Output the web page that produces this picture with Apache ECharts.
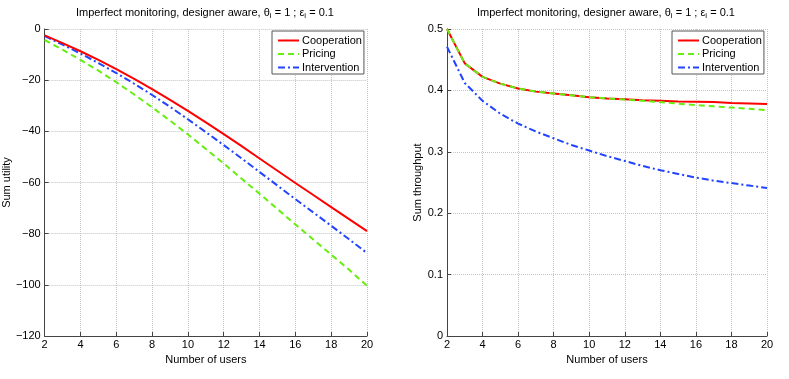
<!DOCTYPE html>
<html>
<head>
<meta charset="utf-8">
<script src="https://cdn.jsdelivr.net/npm/echarts@6/dist/echarts.min.js"></script>
<style>
  html, body { margin: 0; padding: 0; background: #fff; }
  #main { width: 789px; height: 379px; }
</style>
</head>
<body>
<div id="main"></div>
<script>
// number of users (x axis)
var users = [2, 3, 4, 5, 6, 7, 8, 9, 10, 11, 12, 13, 14, 15, 16, 17, 18, 19, 20];
var seriesNames = ['Cooperation', 'Pricing', 'Intervention'];

// left panel: sum utility
var coopUtility = [-2.5, -5.5, -8.7, -12.1, -15.7, -19.5, -23.5, -27.7, -32.0, -36.5, -41.1, -45.8, -50.6, -55.4, -60.2, -64.9, -69.6, -74.3, -79.0];
var pricingUtility = [-4.3, -8.1, -12.1, -16.3, -20.8, -25.6, -30.6, -35.8, -41.2, -46.9, -52.6, -58.5, -64.4, -70.4, -76.4, -82.3, -88.2, -94.1, -100.4];
var interventionUtility = [-2.8, -6.1, -9.6, -13.3, -17.2, -21.4, -25.8, -30.4, -35.3, -40.3, -45.4, -50.6, -55.9, -61.2, -66.5, -71.7, -76.9, -82.2, -87.6];

// right panel: sum throughput
var coopThroughput = [0.500, 0.444, 0.422, 0.411, 0.403, 0.398, 0.395, 0.392, 0.389, 0.387, 0.3855, 0.384, 0.383, 0.382, 0.3815, 0.381, 0.3795, 0.3787, 0.378];
var pricingThroughput = [0.500, 0.444, 0.422, 0.411, 0.403, 0.398, 0.395, 0.392, 0.389, 0.387, 0.385, 0.383, 0.381, 0.3785, 0.376, 0.374, 0.372, 0.370, 0.368];
var interventionThroughput = [0.471, 0.412, 0.383, 0.362, 0.346, 0.333, 0.322, 0.311, 0.302, 0.293, 0.285, 0.277, 0.270, 0.264, 0.258, 0.253, 0.249, 0.245, 0.241];

var colors = ['#ff0000', '#66ee11', '#2244ff'];
var dashTypes = ['solid', [6, 4], [7, 3, 2, 3]];
var zOrder = [4, 6, 3];
var font = 'Liberation Sans, Arial, Helvetica, sans-serif';

function pairs(ys) {
    var out = [];
    for (var i = 0; i < users.length; i++) {
        out.push([users[i], ys[i]]);
    }
    return out;
}

function minus(v) {
    return String(v).replace('-', '\u2212');
}

function makeXAxis(gridIndex) {
    return {
        type: 'value', gridIndex: gridIndex,
        min: 2, max: 20, interval: 2,
        name: 'Number of users', nameLocation: 'middle', nameGap: 14,
        nameTextStyle: { fontFamily: font, fontSize: 11, color: '#000' },
        axisLine: { onZero: false, lineStyle: { color: '#444', width: 1 } },
        axisTick: { inside: true, length: 4, lineStyle: { color: '#444' } },
        axisLabel: { fontFamily: font, fontSize: 11, color: '#000', margin: 3 },
        splitLine: { show: true, lineStyle: { color: '#c4c4c4', type: 'dotted' } }
    };
}

function makeYAxis(gridIndex, name, min, max, interval, gap) {
    return {
        type: 'value', gridIndex: gridIndex,
        min: min, max: max, interval: interval,
        name: name, nameLocation: 'middle', nameGap: gap, nameRotate: 90,
        nameTextStyle: { fontFamily: font, fontSize: 11, color: '#000' },
        axisLine: { show: true, onZero: false, lineStyle: { color: '#444', width: 1 } },
        axisTick: { show: true, inside: true, length: 4, lineStyle: { color: '#444' } },
        axisLabel: { fontFamily: font, fontSize: 11, color: '#000', margin: 4, formatter: minus },
        splitLine: { show: true, lineStyle: { color: '#c4c4c4', type: 'dotted' } }
    };
}

function makeSeries(name, idx, axisIndex, ys) {
    return {
        name: name, type: 'line',
        xAxisIndex: axisIndex, yAxisIndex: axisIndex,
        data: pairs(ys),
        symbol: 'none', smooth: false,
        lineStyle: { color: colors[idx], width: 2, type: dashTypes[idx] },
        itemStyle: { color: colors[idx] },
        z: zOrder[idx]
    };
}

function makeLegend(left) {
    return {
        left: left, top: 31, orient: 'vertical',
        data: seriesNames,
        itemWidth: 21, itemHeight: 10, itemGap: 2.5,
        padding: [4, 2, 1, 5],
        backgroundColor: '#fff', borderColor: '#555', borderWidth: 1, borderRadius: 0,
        itemStyle: { opacity: 0 },
        lineStyle: { width: 2 },
        textStyle: { fontFamily: font, fontSize: 11, color: '#000', padding: [0, 0, 0, -2] },
        selectedMode: false
    };
}

var titleText = 'Imperfect monitoring, designer aware, \u03b8{s|i} = 1 ; \u03b5{s|i} = 0.1';
var titleRich = {
    s: { fontFamily: font, fontSize: 8, color: '#000', padding: [6, 0, 0, 0] }
};

var chart = echarts.init(document.getElementById('main'));
var option = {
    animation: false,
    backgroundColor: '#fff',
    title: [
        { text: titleText, left: 200, top: 1, textAlign: 'center',
          textStyle: { fontFamily: font, fontSize: 11, fontWeight: 'normal', color: '#000', rich: titleRich } },
        { text: titleText, left: 601, top: 1, textAlign: 'center',
          textStyle: { fontFamily: font, fontSize: 11, fontWeight: 'normal', color: '#000', rich: titleRich } }
    ],
    legend: [makeLegend(272), makeLegend(672)],
    grid: [
        { left: 44, right: 422, top: 29, bottom: 43 },
        { left: 447, right: 22, top: 29, bottom: 43 }
    ],
    xAxis: [makeXAxis(0), makeXAxis(1)],
    yAxis: [
        makeYAxis(0, 'Sum utility', -120, 0, 20, 25),
        makeYAxis(1, 'Sum throughput', 0, 0.5, 0.1, 22)
    ],
    series: [
        makeSeries('Cooperation', 0, 0, coopUtility),
        makeSeries('Pricing', 1, 0, pricingUtility),
        makeSeries('Intervention', 2, 0, interventionUtility),
        makeSeries('Cooperation', 0, 1, coopThroughput),
        makeSeries('Pricing', 1, 1, pricingThroughput),
        makeSeries('Intervention', 2, 1, interventionThroughput)
    ]
};
chart.setOption(option);
</script>
</body>
</html>
